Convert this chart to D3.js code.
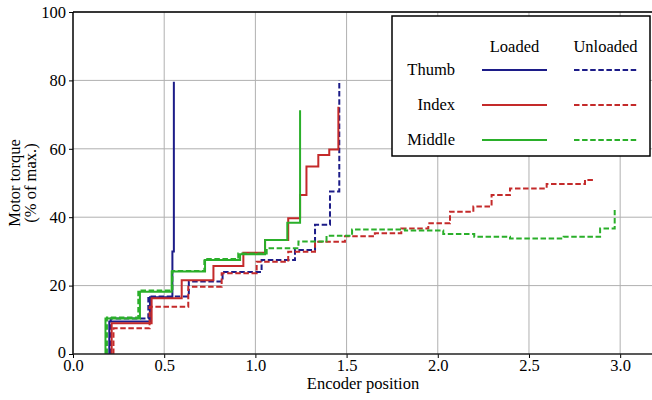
<!DOCTYPE html>
<html>
<head>
<meta charset="utf-8">
<script src="https://cdn.jsdelivr.net/npm/d3@7"></script>
<style>
  body { margin: 0; background: #fff; }
  svg { display: block; font-family: "Liberation Serif", "DejaVu Serif", serif; }
</style>
</head>
<body>
<svg id="chart" width="652" height="400"></svg>
<script>
// step series: torque jumps to level y[i] at encoder position x[i]
var thumbLoadedX = [0.199, 0.422, 0.545, 0.553];
var thumbLoadedY = [9.5, 16.6, 30.0, 79.6];
var thumbUnloadedX = [0.207, 0.413, 0.635, 0.82, 1.034, 1.217, 1.327, 1.409, 1.46];
var thumbUnloadedY = [10.4, 16.8, 21.2, 24.0, 27.5, 30.4, 37.8, 47.5, 80.1];

var indexLoadedX = [0.212, 0.431, 0.596, 0.77, 0.934, 1.053, 1.18, 1.245, 1.28, 1.345, 1.405, 1.455];
var indexLoadedY = [9.0, 16.3, 21.6, 25.7, 29.6, 33.3, 39.7, 46.5, 54.8, 58.2, 59.8, 72.3];
var indexUnloadedX = [0.222, 0.42, 0.632, 0.815, 1.007, 1.18, 1.327, 1.491, 1.655, 1.80, 1.948, 2.067, 2.195, 2.295, 2.396, 2.597, 2.807, 2.86];
var indexUnloadedY = [7.5, 13.8, 19.7, 23.6, 27.0, 29.9, 32.8, 34.4, 35.3, 36.7, 38.2, 41.6, 43.1, 46.5, 48.4, 49.7, 50.9, 50.9];

var middleLoadedX = [0.178, 0.367, 0.541, 0.724, 0.916, 1.053, 1.175, 1.245];
var middleLoadedY = [10.4, 18.2, 24.1, 27.5, 29.2, 33.3, 38.4, 71.3];
var middleUnloadedX = [0.186, 0.358, 0.545, 0.72, 0.906, 1.062, 1.236, 1.39, 1.53, 1.82, 2.03, 2.20, 2.396, 2.69, 2.89, 2.97];
var middleUnloadedY = [10.7, 18.6, 24.3, 27.8, 29.4, 30.9, 32.9, 34.6, 36.4, 36.1, 35.1, 34.3, 33.8, 34.3, 36.7, 42.1];

var fingers = ["Thumb", "Index", "Middle"];
var conditions = ["Loaded", "Unloaded"];
var xTicks = [0.0, 0.5, 1.0, 1.5, 2.0, 2.5, 3.0];
var yTicks = [0, 20, 40, 60, 80, 100];

var colors = { Thumb: "#1c1c88", Index: "#c42a2a", Middle: "#2aaf2a" };
var dash = "5.5,2.6";
var fs = 16.5;

var series = [
  { finger: "Thumb", cond: "Loaded", xs: thumbLoadedX, ys: thumbLoadedY },
  { finger: "Thumb", cond: "Unloaded", xs: thumbUnloadedX, ys: thumbUnloadedY },
  { finger: "Index", cond: "Loaded", xs: indexLoadedX, ys: indexLoadedY },
  { finger: "Index", cond: "Unloaded", xs: indexUnloadedX, ys: indexUnloadedY },
  { finger: "Middle", cond: "Loaded", xs: middleLoadedX, ys: middleLoadedY },
  { finger: "Middle", cond: "Unloaded", xs: middleUnloadedX, ys: middleUnloadedY }
];

var svg = d3.select("#chart");
var pLeft = 73, pRight = 653, pTop = 12, pBottom = 354;

var x = d3.scaleLinear().domain([0, 3.18]).range([pLeft, pRight]);
var y = d3.scaleLinear().domain([0, 100]).range([pBottom, pTop]);

svg.append("defs").append("clipPath").attr("id", "plotclip")
  .append("rect").attr("x", pLeft).attr("y", pTop - 2)
  .attr("width", pRight - pLeft).attr("height", pBottom - pTop + 2);

// grid
var grid = svg.append("g");
grid.selectAll("line.vx").data(xTicks.slice(1)).enter().append("line")
  .attr("x1", function(d) { return x(d); }).attr("x2", function(d) { return x(d); })
  .attr("y1", pTop).attr("y2", pBottom)
  .attr("stroke", "#b0b0b0").attr("stroke-width", 1);
grid.selectAll("line.hy").data(yTicks.slice(1)).enter().append("line")
  .attr("x1", pLeft).attr("x2", pRight)
  .attr("y1", function(d) { return y(d); }).attr("y2", function(d) { return y(d); })
  .attr("stroke", "#b0b0b0").attr("stroke-width", 1);

// lines
var line = d3.line()
  .x(function(p) { return x(p[0]); })
  .y(function(p) { return y(p[1]); })
  .curve(d3.curveStepAfter);

function toPoints(s) {
  var pts = [[s.xs[0], 0]];
  s.xs.forEach(function(v, i) { pts.push([v, s.ys[i]]); });
  return pts;
}

svg.append("g").attr("clip-path", "url(#plotclip)")
  .selectAll("path").data(series).enter().append("path")
  .attr("d", function(s) { return line(toPoints(s)); })
  .attr("fill", "none")
  .attr("stroke", function(s) { return colors[s.finger]; })
  .attr("stroke-width", 2)
  .attr("stroke-dasharray", function(s) { return s.cond === "Unloaded" ? dash : null; });

// axes
var xAxis = svg.append("g").attr("transform", "translate(0," + pBottom + ")")
  .call(d3.axisBottom(x).tickValues(xTicks).tickFormat(d3.format(".1f")).tickSize(4).tickPadding(1));
var yAxis = svg.append("g").attr("transform", "translate(" + pLeft + ",0)")
  .call(d3.axisLeft(y).tickValues(yTicks).tickSize(4).tickPadding(3));

[xAxis, yAxis].forEach(function(a) {
  a.select(".domain").remove();
  a.selectAll("line").attr("stroke", "#000").attr("stroke-width", 1);
  a.selectAll("text").attr("font-size", fs).attr("fill", "#000")
    .attr("font-family", "Liberation Serif, serif");
});
yAxis.selectAll(".tick text").attr("dy", function(d) { return d === 0 ? "0.2em" : "0.32em"; });

// spines
svg.append("line").attr("x1", pLeft).attr("x2", pLeft).attr("y1", pTop).attr("y2", pBottom)
  .attr("stroke", "#000").attr("stroke-width", 1.5);
svg.append("line").attr("x1", pLeft).attr("x2", 652).attr("y1", pBottom).attr("y2", pBottom)
  .attr("stroke", "#222").attr("stroke-width", 1.5);
svg.append("line").attr("x1", pLeft).attr("x2", 652).attr("y1", pTop).attr("y2", pTop)
  .attr("stroke", "#000").attr("stroke-width", 1.5);

// axis titles
svg.append("text").attr("x", (pLeft + pRight) / 2).attr("y", 389)
  .attr("text-anchor", "middle").attr("font-size", fs).text("Encoder position");
var yl = svg.append("text").attr("transform", "translate(20,183) rotate(-90)")
  .attr("text-anchor", "middle").attr("font-size", fs);
yl.append("tspan").attr("x", 0).attr("y", 0).text("Motor torque");
yl.append("tspan").attr("x", 0).attr("y", 16).text("(% of max.)");

// legend
var lg = svg.append("g");
lg.append("rect").attr("x", 392).attr("y", 16).attr("width", 258).attr("height", 140)
  .attr("fill", "#fff").attr("stroke", "#000").attr("stroke-width", 1.5);
var colX = { Loaded: [482, 547], Unloaded: [574, 637] };
var rowY = { Thumb: 70, Index: 105, Middle: 140 };
conditions.forEach(function(c) {
  lg.append("text").attr("x", (colX[c][0] + colX[c][1]) / 2).attr("y", 52)
    .attr("text-anchor", "middle").attr("font-size", fs).text(c);
});
fingers.forEach(function(f) {
  lg.append("text").attr("x", 455).attr("y", rowY[f] + 5)
    .attr("text-anchor", "end").attr("font-size", fs).text(f);
  conditions.forEach(function(c) {
    lg.append("line").attr("x1", colX[c][0]).attr("x2", colX[c][1])
      .attr("y1", rowY[f]).attr("y2", rowY[f])
      .attr("stroke", colors[f]).attr("stroke-width", 2)
      .attr("stroke-dasharray", c === "Unloaded" ? dash : null);
  });
});
</script>
</body>
</html>
